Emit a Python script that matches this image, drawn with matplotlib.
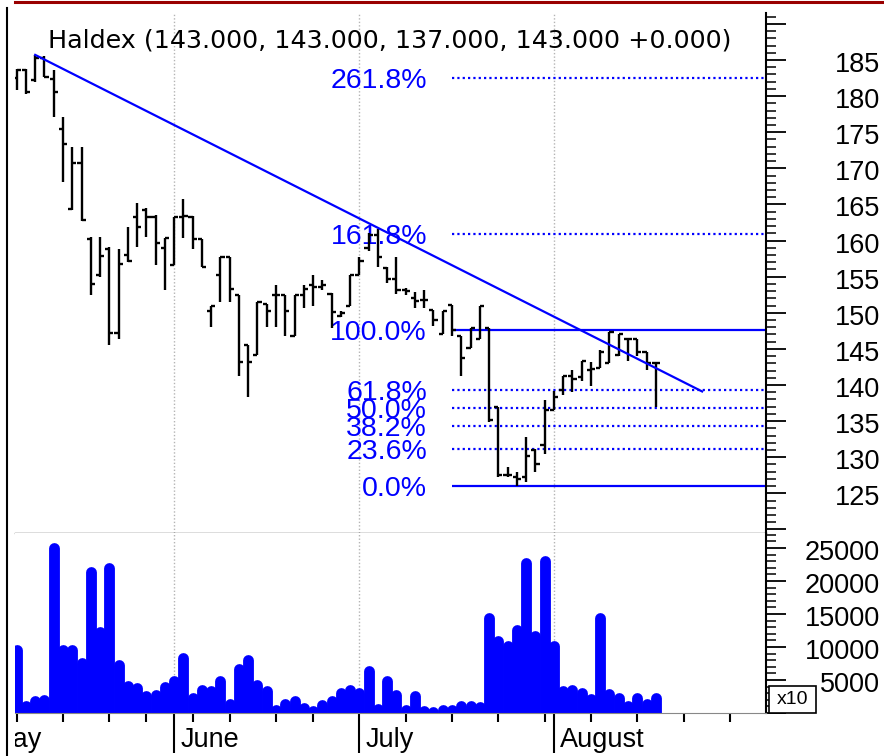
import numpy as np
import matplotlib
matplotlib.use("Agg")
import matplotlib.pyplot as plt
import matplotlib.transforms as mtransforms
from matplotlib.lines import Line2D
from matplotlib.patches import Rectangle
from matplotlib.ticker import FixedLocator, MultipleLocator

plt.rcParams["font.family"] = ["Liberation Sans", "DejaVu Sans"]

# daily OHLC, x = trading-day index
opens = [182.5, 183.6, 182.2, 185.3, 182.4, 175.4, 164.4, 170.7, 160.2, 155.2,
         158.8, 147.2, 158.0, 163.3, 164.2, 163.2, 159.0, 156.6, 163.3, 163.3,
         160.2, 150.2, 155.2, 157.7, 152.4, 145.6, 144.1, 151.2, 152.5, 152.4,
         146.8, 152.4, 153.9, 153.5, 152.6, 149.6, 151.0, 155.2, 158.9, 160.8,
         156.2, 154.7, 153.1, 152.0, 151.7, 150.4, 147.1, 151.1, 146.8, 145.1,
         146.3, 147.9, 137.0, 127.5, 127.3, 127.2, 131.0, 131.7, 136.6, 139.3,
         141.3, 141.1, 142.1, 142.4, 143.1, 144.2, 146.4, 146.4, 144.5, 143.0]
highs = [183.7, 183.7, 185.7, 185.5, 183.6, 177.1, 173.0, 173.0, 160.5, 160.5,
         159.1, 158.8, 161.9, 165.2, 164.5, 163.5, 160.3, 163.3, 165.8, 163.4,
         160.2, 151.0, 157.7, 157.7, 152.4, 145.6, 151.5, 151.2, 153.9, 152.4,
         152.4, 153.9, 155.2, 154.6, 152.7, 150.3, 155.2, 157.7, 161.0, 161.6,
         156.4, 157.7, 153.4, 152.9, 153.1, 150.4, 150.3, 151.1, 146.8, 147.9,
         151.0, 147.9, 137.0, 128.6, 128.0, 132.8, 131.2, 137.9, 139.1, 141.3,
         142.1, 143.3, 143.2, 144.8, 147.3, 147.0, 146.4, 146.4, 144.6, 143.0]
lows = [180.8, 180.3, 182.0, 182.6, 177.1, 168.1, 164.2, 162.7, 152.4, 155.0,
        145.5, 146.3, 157.0, 159.1, 160.5, 156.6, 153.1, 156.6, 160.4, 158.8,
        156.3, 148.0, 151.5, 151.5, 141.3, 138.3, 144.1, 148.0, 148.0, 146.8,
        146.8, 150.6, 150.9, 153.2, 147.9, 149.4, 151.0, 155.2, 158.5, 156.3,
        154.1, 152.6, 152.4, 150.7, 150.6, 148.1, 147.1, 146.8, 141.2, 145.1,
        146.3, 134.9, 127.3, 127.3, 126.0, 126.6, 128.0, 130.5, 136.6, 138.6,
        139.0, 140.6, 139.8, 142.4, 143.1, 144.0, 143.3, 144.0, 142.1, 137.0]
closes = [183.6, 180.6, 185.3, 182.7, 180.6, 173.3, 170.7, 162.8, 154.0, 157.8,
          147.2, 156.8, 157.2, 161.9, 163.3, 159.6, 160.3, 163.3, 163.4, 160.2,
          156.3, 151.0, 157.7, 153.3, 143.2, 143.2, 151.5, 150.2, 152.5, 150.2,
          152.4, 153.3, 153.6, 153.9, 150.1, 150.0, 155.2, 157.2, 160.8, 157.7,
          154.7, 153.2, 153.0, 151.6, 151.7, 149.0, 150.3, 147.6, 143.8, 147.9,
          151.0, 135.1, 127.5, 127.5, 127.0, 130.2, 129.1, 136.6, 138.3, 141.3,
          140.8, 143.3, 142.2, 144.6, 147.3, 147.0, 146.4, 144.6, 143.0, 143.0]
volumes = [9600, 1000, 1800, 2000, 25000, 9600, 9500, 7600, 21300, 12300,
           22000, 7300, 4100, 3800, 2500, 2700, 3900, 4800, 8400, 2200,
           3500, 3300, 4800, 1300, 6600, 8100, 4200, 3300, 500, 1300,
           1800, 700, 350, 1200, 1800, 3100, 3500, 3000, 6300, 600,
           4800, 2800, 450, 2600, 350, 100, 500, 500, 1000, 1000,
           900, 14400, 10900, 10100, 12600, 22700, 11600, 23000, 10200, 3300,
           3500, 3000, 2100, 14400, 2900, 2300, 1000, 2300, 1300, 2300]

month_names = ["May", "June", "July", "August"]
month_idx = [-3.5, 17, 37, 58]
week_idx = [0, 5, 10, 14, 19, 23, 28, 32, 42, 47, 52, 57, 62, 67, 72, 77]

trend_x = [2, 74]
trend_y = [185.7, 139.1]

fib_start = 47
fib_low, fib_high = 126.0, 147.6
fib_ratios = [0.0, 0.236, 0.382, 0.5, 0.618, 1.0, 1.618, 2.618]
fib_labels = ["0.0%", "23.6%", "38.2%", "50.0%", "61.8%", "100.0%", "161.8%", "261.8%"]

price_ticks = [125, 130, 135, 140, 145, 150, 155, 160, 165, 170, 175, 180, 185]
vol_ticks = [5000, 10000, 15000, 20000, 25000]

title = "Haldex (143.000, 143.000, 137.000, 143.000 +0.000)"

W, H = 884, 756
fig = plt.figure(figsize=(W / 100, H / 100), dpi=100)


def rect(x0, y0, x1, y1):
    # pixel box with top-left origin -> figure fraction
    return [x0 / W, 1 - y1 / H, (x1 - x0) / W, (y1 - y0) / H]


ax = fig.add_axes(rect(15, 13, 766, 533))
axv = fig.add_axes(rect(15, 533, 766, 713), sharex=ax)
axs = fig.add_axes(rect(15, 713, 766, 756), sharex=axv)

x = np.arange(len(opens))
FS = 19.5
BLUE = "#0000ff"
GRID = "#b4b4b4"

# ---- price panel
ax.vlines(x, lows, highs, color="black", lw=1.7, zorder=3)
ax.hlines(opens, x - 0.45, x, color="black", lw=1.7, zorder=3)
ax.hlines(closes, x, x + 0.45, color="black", lw=1.7, zorder=3)
ax.plot(trend_x, trend_y, color=BLUE, lw=1.6, zorder=4)

span = fib_high - fib_low
for r, lab in zip(fib_ratios, fib_labels):
    lvl = fib_low + r * span
    if r in (0.0, 1.0):
        ax.hlines(lvl, fib_start, 90, color=BLUE, lw=1.6, zorder=2)
    else:
        ax.hlines(lvl, fib_start, 90, color=BLUE, lw=1.6, linestyles=(0, (1, 1.4)), zorder=2)
    ax.text(fib_start - 2.7, lvl, lab, color=BLUE, fontsize=20.5, ha="right",
            va="center_baseline", zorder=1)

ax.text(0.044, 0.9346, title, transform=ax.transAxes, fontsize=18.3,
        family="DejaVu Sans", ha="left", va="baseline")

# ---- volume panel: thick round-capped sticks
for xi, v in zip(x, volumes):
    axv.plot([xi, xi], [0, v], color=BLUE, lw=7.8, solid_capstyle="round", zorder=2)

for a in (ax, axv):
    for m in month_idx[1:]:
        a.axvline(m, color=GRID, lw=1, ls=(0, (1, 1.5)), zorder=0)
    a.spines["left"].set_visible(False)
    a.spines["top"].set_visible(False)
    a.spines["right"].set_linewidth(1.5)
    a.yaxis.tick_right()
ax.spines["bottom"].set_color("#555555")
ax.spines["bottom"].set_linewidth(1.0)
axv.spines["bottom"].set_color("#888888")
axv.spines["bottom"].set_linewidth(0.8)

ax.set_xlim(-0.18, 80.9)
ax.set_ylim(119.5, 191.5)
axv.set_ylim(0, 27270)

ax.yaxis.set_major_locator(MultipleLocator(5))
ax.yaxis.set_minor_locator(MultipleLocator(1))
axv.yaxis.set_major_locator(MultipleLocator(5000))
axv.yaxis.set_minor_locator(MultipleLocator(1000))
for a in (ax, axv):
    a.tick_params(axis="y", which="major", direction="out", length=14.4, width=1.3,
                  labelright=False, labelleft=False)
    a.tick_params(axis="y", which="minor", direction="out", length=7, width=1.1)

axv.xaxis.set_major_locator(FixedLocator(month_idx))
axv.xaxis.set_minor_locator(FixedLocator(week_idx))
axv.tick_params(axis="x", which="major", direction="out", length=28.8, width=1.5,
                labelbottom=False)
axv.tick_params(axis="x", which="minor", direction="out", length=6.5, width=1.5)
ax.tick_params(axis="x", which="both", bottom=False, top=False, labelbottom=False)

# right-hand labels sit a little below their ticks
for a, vals in ((ax, price_ticks), (axv, vol_ticks)):
    tr = mtransforms.offset_copy(a.get_yaxis_transform(), fig=fig, x=0, y=-5, units="dots")
    for v in vals:
        a.text(1.1518, v, str(v), transform=tr, ha="right", va="center",
               fontsize=FS, clip_on=False)

# ---- month labels strip (clipped at left edge like the original)
axs.axis("off")
axs.set_ylim(0, 1)
for name, m in zip(month_names, month_idx):
    axs.text(m + 0.7, 0.37, name, fontsize=FS, ha="left", va="center", clip_on=True)

# ---- frame decorations
fig.add_artist(Line2D([15 / W, 1], [1 - 1.5 / H] * 2, color="#990000", lw=2.2,
                      transform=fig.transFigure))
fig.add_artist(Line2D([7 / W, 7 / W], [0, 1 - 8 / H], color="black", lw=1.5,
                      transform=fig.transFigure))
fig.add_artist(Rectangle((769 / W, 1 - 713 / H), 47 / W, 27 / H, transform=fig.transFigure,
                         fc="white", ec="black", lw=1.2))
fig.text(792.5 / W, 1 - 699.5 / H, "x10", ha="center", va="center", fontsize=14)

fig.savefig("out.png", dpi=100)
